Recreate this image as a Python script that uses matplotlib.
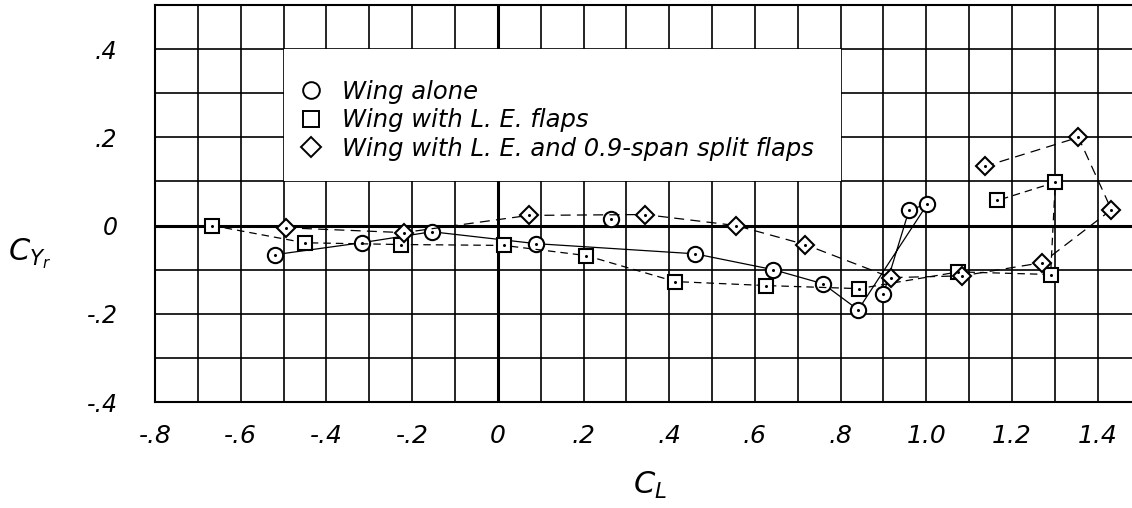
import matplotlib
matplotlib.use("Agg")
import matplotlib.pyplot as plt
from matplotlib.lines import Line2D
from matplotlib.patches import Rectangle

# wing alone (circles), in the order the faired curve goes
alone_cl = [-0.52, -0.318, -0.154, 0.089, 0.460, 0.643, 0.759, 0.841, 1.002, 0.960, 0.900]
alone_cy = [-0.066, -0.039, -0.014, -0.041, -0.064, -0.100, -0.132, -0.191, 0.048, 0.036, -0.155]
# wing alone point that sits off the faired curve
alone_extra_cl = [0.264]
alone_extra_cy = [0.014]

# wing with L.E. flaps (squares)
le_cl = [-0.666, -0.451, -0.227, 0.014, 0.206, 0.414, 0.626, 0.843, 1.075, 1.290, 1.301, 1.166]
le_cy = [0.000, -0.039, -0.043, -0.045, -0.068, -0.127, -0.136, -0.143, -0.105, -0.111, 0.098, 0.057]

# wing with L.E. and 0.9-span split flaps (diamonds)
split_cl = [-0.495, -0.220, 0.072, 0.343, 0.556, 0.717, 0.918, 1.084, 1.271, 1.432, 1.355, 1.136]
split_cy = [-0.005, -0.016, 0.023, 0.025, 0.000, -0.043, -0.118, -0.114, -0.084, 0.036, 0.200, 0.134]

labels = ["Wing alone", "Wing with L. E. flaps", "Wing with L. E. and 0.9-span split flaps"]

x_ticks = [-0.8, -0.6, -0.4, -0.2, 0, 0.2, 0.4, 0.6, 0.8, 1.0, 1.2, 1.4]
x_ticklabels = ["-.8", "-.6", "-.4", "-.2", "0", ".2", ".4", ".6", ".8", "1.0", "1.2", "1.4"]
y_ticks = [-0.4, -0.2, 0, 0.2, 0.4]
y_ticklabels = ["-.4", "-.2", "0", ".2", ".4"]

fig = plt.figure(figsize=(11.32, 5.08), dpi=100)
ax = fig.add_axes([155 / 1132, 1 - 402 / 508, 1 - 155 / 1132, 397 / 508])
ax.set_xlim(-0.8, 1.48)
ax.set_ylim(-0.4, 0.5)

# grid every 0.1
gx = [round(-0.8 + 0.1 * i, 2) for i in range(23)]
gy = [round(-0.4 + 0.1 * i, 2) for i in range(10)]
for v in gx:
    lw = 2.2 if v == 0 else 1.2
    ax.axvline(v, color="black", lw=lw, zorder=0.5)
for v in gy:
    lw = 2.2 if v == 0 else 1.2
    ax.axhline(v, color="black", lw=lw, zorder=0.5)

# white box behind the key
ax.add_patch(Rectangle((-0.5, 0.1), 1.3, 0.3, facecolor="white", edgecolor="none", zorder=1))

mk = dict(mfc="white", mec="black", mew=1.5, color="black", lw=0.9, zorder=3)
ax.plot(alone_cl, alone_cy, marker="o", ms=11, ls="-", **mk)
ax.plot(alone_extra_cl, alone_extra_cy, marker="o", ms=11, ls="none", **mk)
ax.plot(le_cl, le_cy, marker="s", ms=10, ls=(0, (6, 4)), **mk)
ax.plot(split_cl, split_cy, marker="D", ms=9, ls=(0, (8, 5)), **mk)
# centre dots
for xs, ys in [(alone_cl, alone_cy), (alone_extra_cl, alone_extra_cy), (le_cl, le_cy), (split_cl, split_cy)]:
    ax.plot(xs, ys, ls="none", marker="o", ms=1.2, color="black", zorder=4)

handles = [
    Line2D([], [], marker="o", ms=12, mfc="white", mec="black", mew=1.4, ls="none"),
    Line2D([], [], marker="s", ms=11, mfc="white", mec="black", mew=1.4, ls="none"),
    Line2D([], [], marker="D", ms=10, mfc="white", mec="black", mew=1.4, ls="none"),
]
ax.legend(handles, labels, loc="upper left", bbox_to_anchor=(-0.458, 0.33),
          bbox_transform=ax.transData, frameon=False,
          prop={"style": "italic", "size": 17.5}, handlelength=0.75,
          handletextpad=0.9, labelspacing=0.18, borderpad=0, borderaxespad=0)

ax.set_xticks(x_ticks)
ax.set_xticklabels(x_ticklabels, fontsize=18, style="italic")
ax.set_yticks(y_ticks)
ax.set_yticklabels(y_ticklabels, fontsize=17, style="italic")
ax.tick_params(axis="x", length=0, pad=16)
ax.tick_params(axis="y", length=0, pad=27)

ax.set_xlabel(r"$C_L$", fontsize=22)
ax.xaxis.set_label_coords(0.507, -0.17)
ax.set_ylabel(r"$C_{Y_r}$", fontsize=22, rotation=0)
ax.yaxis.set_label_coords(-0.128, 0.33)

for s in ["left", "bottom", "top"]:
    ax.spines[s].set_linewidth(1.5)
ax.spines["right"].set_visible(False)

fig.savefig("out.png", dpi=100)
